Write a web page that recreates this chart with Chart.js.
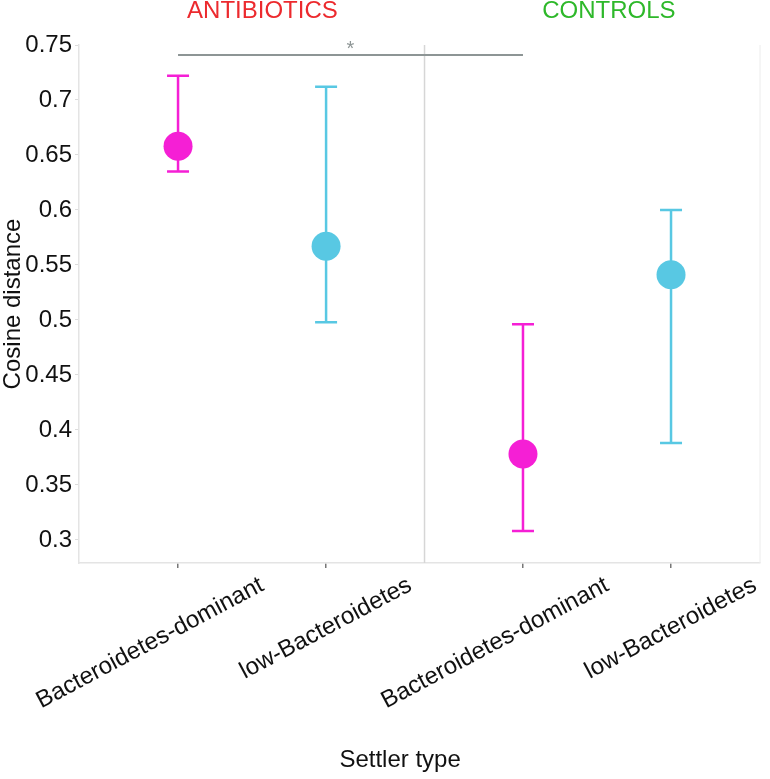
<!DOCTYPE html>
<html>
<head>
<meta charset="utf-8">
<script src="https://cdn.jsdelivr.net/npm/chart.js@4.4.1/dist/chart.umd.min.js"></script>
<style>
  html, body { margin: 0; padding: 0; background: #fff; }
  canvas { display: block; }
</style>
</head>
<body>
<canvas id="chart" width="770" height="779"></canvas>
<script>
// settler types along the x axis (two groups, a gap between them)
const xLabels = ['Bacteroidetes-dominant', 'low-Bacteroidetes', 'Bacteroidetes-dominant', 'low-Bacteroidetes']
const xPositions = [1, 2, 3.33, 4.33]

// cosine distance: mean and error bar ends
const means = [0.658, 0.567, 0.378, 0.541]
const upper = [0.722, 0.712, 0.496, 0.600]
const lower = [0.635, 0.498, 0.308, 0.388]
const pointColors = ['#f51fd5', '#58c8e3', '#f51fd5', '#58c8e3']

const yTicks = [0.3, 0.35, 0.4, 0.45, 0.5, 0.55, 0.6, 0.65, 0.7, 0.75]

const groups = ['ANTIBIOTICS', 'CONTROLS']
const groupCenters = [1.57, 3.91]
const groupColors = ['#ec2a2e', '#2eb82a']
const dividerX = 2.665

// significance bracket
const sigFrom = 1
const sigTo = 3.33
const sigY = 0.741
const sigLabel = '*'

const xTitle = 'Settler type'
const xTitleAt = 2.5

const FONT = "'Liberation Sans', Arial, Helvetica, sans-serif"

const extras = {
  id: 'extras',
  beforeDatasetsDraw(chart) {
    const { ctx, chartArea, scales: { x, y } } = chart
    ctx.save()
    // divider between the groups
    const dx = x.getPixelForValue(dividerX)
    ctx.strokeStyle = '#d6d6d6'
    ctx.lineWidth = 1.5
    ctx.beginPath()
    ctx.moveTo(dx, chartArea.top)
    ctx.lineTo(dx, chartArea.bottom)
    ctx.stroke()
    // faint right frame
    ctx.strokeStyle = '#ececec'
    ctx.lineWidth = 1
    ctx.beginPath()
    ctx.moveTo(chartArea.right, chartArea.top)
    ctx.lineTo(chartArea.right, chartArea.bottom)
    ctx.stroke()
    // error bars
    means.forEach((m, i) => {
      const px = x.getPixelForValue(xPositions[i])
      const top = y.getPixelForValue(upper[i])
      const bot = y.getPixelForValue(lower[i])
      ctx.strokeStyle = pointColors[i]
      ctx.lineWidth = 2.5
      ctx.beginPath()
      ctx.moveTo(px, top)
      ctx.lineTo(px, bot)
      ctx.moveTo(px - 11, top)
      ctx.lineTo(px + 11, top)
      ctx.moveTo(px - 11, bot)
      ctx.lineTo(px + 11, bot)
      ctx.stroke()
    })
    ctx.restore()
  },
  afterDraw(chart) {
    const { ctx, scales: { x, y } } = chart
    ctx.save()
    ctx.textAlign = 'center'
    ctx.textBaseline = 'middle'
    ctx.font = '24px ' + FONT
    groups.forEach((g, i) => {
      ctx.fillStyle = groupColors[i]
      ctx.fillText(g, x.getPixelForValue(groupCenters[i]), 11)
    })
    // x axis title sits a bit left of the plot centre
    ctx.fillStyle = '#111'
    ctx.fillText(xTitle, x.getPixelForValue(xTitleAt), 760)
    ctx.font = '20px ' + FONT
    ctx.fillStyle = '#8d9595'
    ctx.textBaseline = 'alphabetic'
    ctx.fillText(sigLabel, (x.getPixelForValue(sigFrom) + x.getPixelForValue(sigTo)) / 2, y.getPixelForValue(sigY))
    ctx.restore()
  },
}

const myChart = new Chart(document.getElementById('chart'), {
  ////////////////////////////////////////////
  type: 'scatter',
  plugins: [extras],
  ////////////////////////////////////////////
  data: {
    datasets: [
      {
        type: 'line',
        data: [{ x: sigFrom, y: sigY }, { x: sigTo, y: sigY }],
        borderColor: '#8d9595',
        borderWidth: 2,
        pointRadius: 0,
      },
      {
        data: xPositions.map((v, i) => ({ x: v, y: means[i] })),
        pointBackgroundColor: pointColors,
        pointBorderColor: pointColors,
        pointRadius: 14.5,
        borderWidth: 0,
      },
    ],
  },
  ////////////////////////////////////////////
  options: {
    responsive: false,
    animation: false,
    layout: {
      autoPadding: false,
      padding: { top: 45, right: 10, left: 0, bottom: 0 },
    },
    scales: {
      x: {
        type: 'linear',
        min: 0.331,
        max: 4.931,
        afterBuildTicks: (scale) => {
          scale.ticks = xPositions.map((v) => ({ value: v }))
        },
        afterFit: (scale) => {
          scale.height = 216
          scale.paddingLeft = 0
          scale.paddingRight = 0
        },
        ticks: {
          autoSkip: false,
          minRotation: 28,
          maxRotation: 28,
          labelOffset: 84,
          padding: 3,
          color: '#111',
          font: { family: FONT, size: 24 },
          callback: (value, index) => xLabels[index],
        },
        grid: {
          drawOnChartArea: false,
          tickLength: 5,
          color: '#777',
          lineWidth: 1.5,
        },
        border: { color: '#e4e4e4', width: 1.5 },
      },
      y: {
        min: 0.279,
        max: 0.75,
        afterBuildTicks: (scale) => {
          scale.ticks = yTicks.map((v) => ({ value: v }))
        },
        afterFit: (scale) => {
          scale.width = 79
        },
        ticks: {
          padding: 3,
          color: '#111',
          font: { family: FONT, size: 24 },
          callback: (value) => String(Math.round(value * 100) / 100),
        },
        grid: {
          drawOnChartArea: false,
          tickLength: 4,
          color: '#dcdcdc',
        },
        border: { color: '#e4e4e4', width: 1.5 },
        title: {
          display: true,
          text: 'Cosine distance',
          color: '#111',
          font: { family: FONT, size: 24, lineHeight: 1 },
          padding: { top: 1, bottom: 0 },
        },
      },
    },
    plugins: {
      legend: {
        display: false,
      },
      tooltip: {
        enabled: false,
      },
    },
  },
  //////////////////////////////////////////////
})
</script>
</body>
</html>
